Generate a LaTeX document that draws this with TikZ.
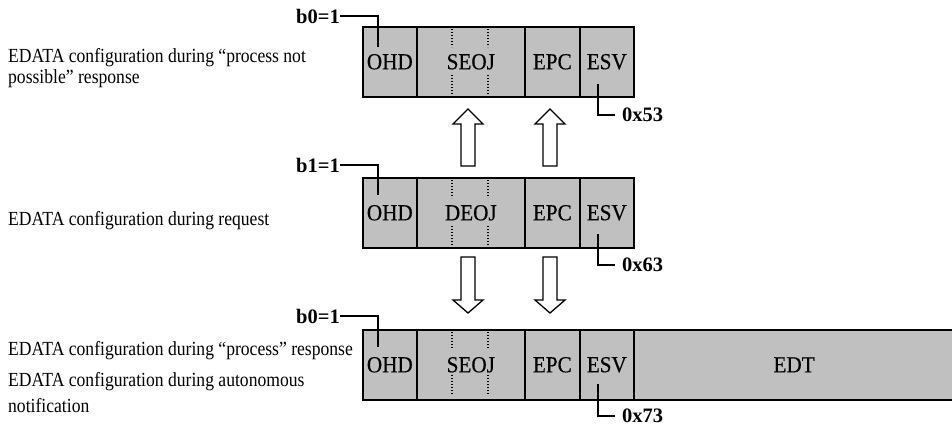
\documentclass[tikz,border=0pt]{standalone}
\usepackage{fontspec}
\setmainfont{Liberation Serif}
\newfontfamily\notefont[FakeStretch=0.88]{Liberation Serif}
\newfontfamily\cellfont[FakeBold=0.4,FakeStretch=0.92]{Liberation Serif}
\usetikzlibrary{positioning}
\definecolor{boxgray}{RGB}{192,192,192}

\tikzset{
  cell/.style={draw, fill=boxgray, line width=1.6pt, inner sep=0pt,
    minimum height=70pt, anchor=north west, font=\cellfont\fontsize{23}{24}\selectfont},
  note/.style={inner sep=0pt, align=left, font=\notefont\fontsize{20}{21}\selectfont},
  tag/.style={inner sep=0pt, font=\bfseries\fontsize{20.5}{24}\selectfont},
  link/.style={line width=1.3pt},
  sep/.style={line width=1.1pt, dash pattern=on 1.2pt off 1.8pt},
  hollow/.style={draw, fill=white, line width=1.3pt, line join=miter},
}

\begin{document}
\begin{tikzpicture}[x=1pt, y=-1pt]
    \useasboundingbox (0,0) rectangle (952,426);

    % Texts on the left
    \node[note, anchor=west] (noteA) at (8,68) {EDATA configuration during “process not\\possible” response};
    \node[note, anchor=base west] (noteB) at (8,225) {EDATA configuration during request};
    \node[note, anchor=base west] (noteC) at (8,355) {EDATA configuration during “process” response};
    \node[note, anchor=west, font=\notefont\fontsize{20}{26}\selectfont] (noteD) at (8,393) {EDATA configuration during autonomous\\notification};

    % Top row: process not possible
    \node[cell, minimum width=54pt] (ohdA) at (362,26) {OHD};
    \node[cell, minimum width=108pt] (seojA) at (416,26) {SEOJ};
    \node[cell, minimum width=55pt] (epcA) at (524,26) {EPC};
    \node[cell, minimum width=54pt] (esvA) at (579,26) {ESV};
    \draw[sep] (452,29) -- (452,47);
    \draw[sep] (488,29) -- (488,47);
    \draw[sep] (452,75) -- (452,94);
    \draw[sep] (488,75) -- (488,94);
    \node[tag, anchor=east] (flagA) at (340,16) {b0=1};
    \coordinate (ohdAtip) at (378,47);
    \draw[link] (flagA.east) -| (ohdAtip);
    \coordinate (esvAtip) at (598,84);
    \node[tag, anchor=west] (codeA) at (622,115) {0x53};
    \draw[link] (esvAtip) |- ([xshift=-7pt]codeA.west);

    % Middle row: request
    \node[cell, minimum width=54pt] (ohdB) at (362,177) {OHD};
    \node[cell, minimum width=108pt] (deojB) at (416,177) {DEOJ};
    \node[cell, minimum width=55pt] (epcB) at (524,177) {EPC};
    \node[cell, minimum width=54pt] (esvB) at (579,177) {ESV};
    \draw[sep] (452,180) -- (452,198);
    \draw[sep] (488,180) -- (488,198);
    \draw[sep] (452,226) -- (452,245);
    \draw[sep] (488,226) -- (488,245);
    \node[tag, anchor=east] (flagB) at (340,165) {b1=1};
    \coordinate (ohdBtip) at (378,195);
    \draw[link] (flagB.east) -| (ohdBtip);
    \coordinate (esvBtip) at (598,234);
    \node[tag, anchor=west] (codeB) at (622,265) {0x63};
    \draw[link] (esvBtip) |- ([xshift=-7pt]codeB.west);

    % Bottom row: process / notification
    \node[cell, minimum width=54pt] (ohdC) at (362,329) {OHD};
    \node[cell, minimum width=108pt] (seojC) at (416,329) {SEOJ};
    \node[cell, minimum width=55pt] (epcC) at (524,329) {EPC};
    \node[cell, minimum width=54pt] (esvC) at (579,329) {ESV};
    \node[cell, minimum width=320.5pt] (edtC) at (633,329) {EDT};
    \draw[sep] (452,332) -- (452,349);
    \draw[sep] (488,332) -- (488,349);
    \draw[sep] (452,375) -- (452,395);
    \draw[sep] (488,375) -- (488,395);
    \node[tag, anchor=east] (flagC) at (340,316) {b0=1};
    \coordinate (ohdCtip) at (378,347);
    \draw[link] (flagC.east) -| (ohdCtip);
    \coordinate (esvCtip) at (598,384);
    \node[tag, anchor=west] (codeC) at (622,416) {0x73};
    \draw[link] (esvCtip) |- ([xshift=-7pt]codeC.west);

    % Hollow arrows between the rows
    \foreach \c in {468,550} {
      \draw[hollow] (\c-7,166) -- (\c-7,124) -- (\c-15,124) -- (\c,109)
        -- (\c+15,124) -- (\c+7,124) -- (\c+7,166) -- cycle;
      \draw[hollow] (\c-7,257) -- (\c-7,300) -- (\c-15,300) -- (\c,313)
        -- (\c+15,300) -- (\c+7,300) -- (\c+7,257) -- cycle;
    }
\end{tikzpicture}
\end{document}
